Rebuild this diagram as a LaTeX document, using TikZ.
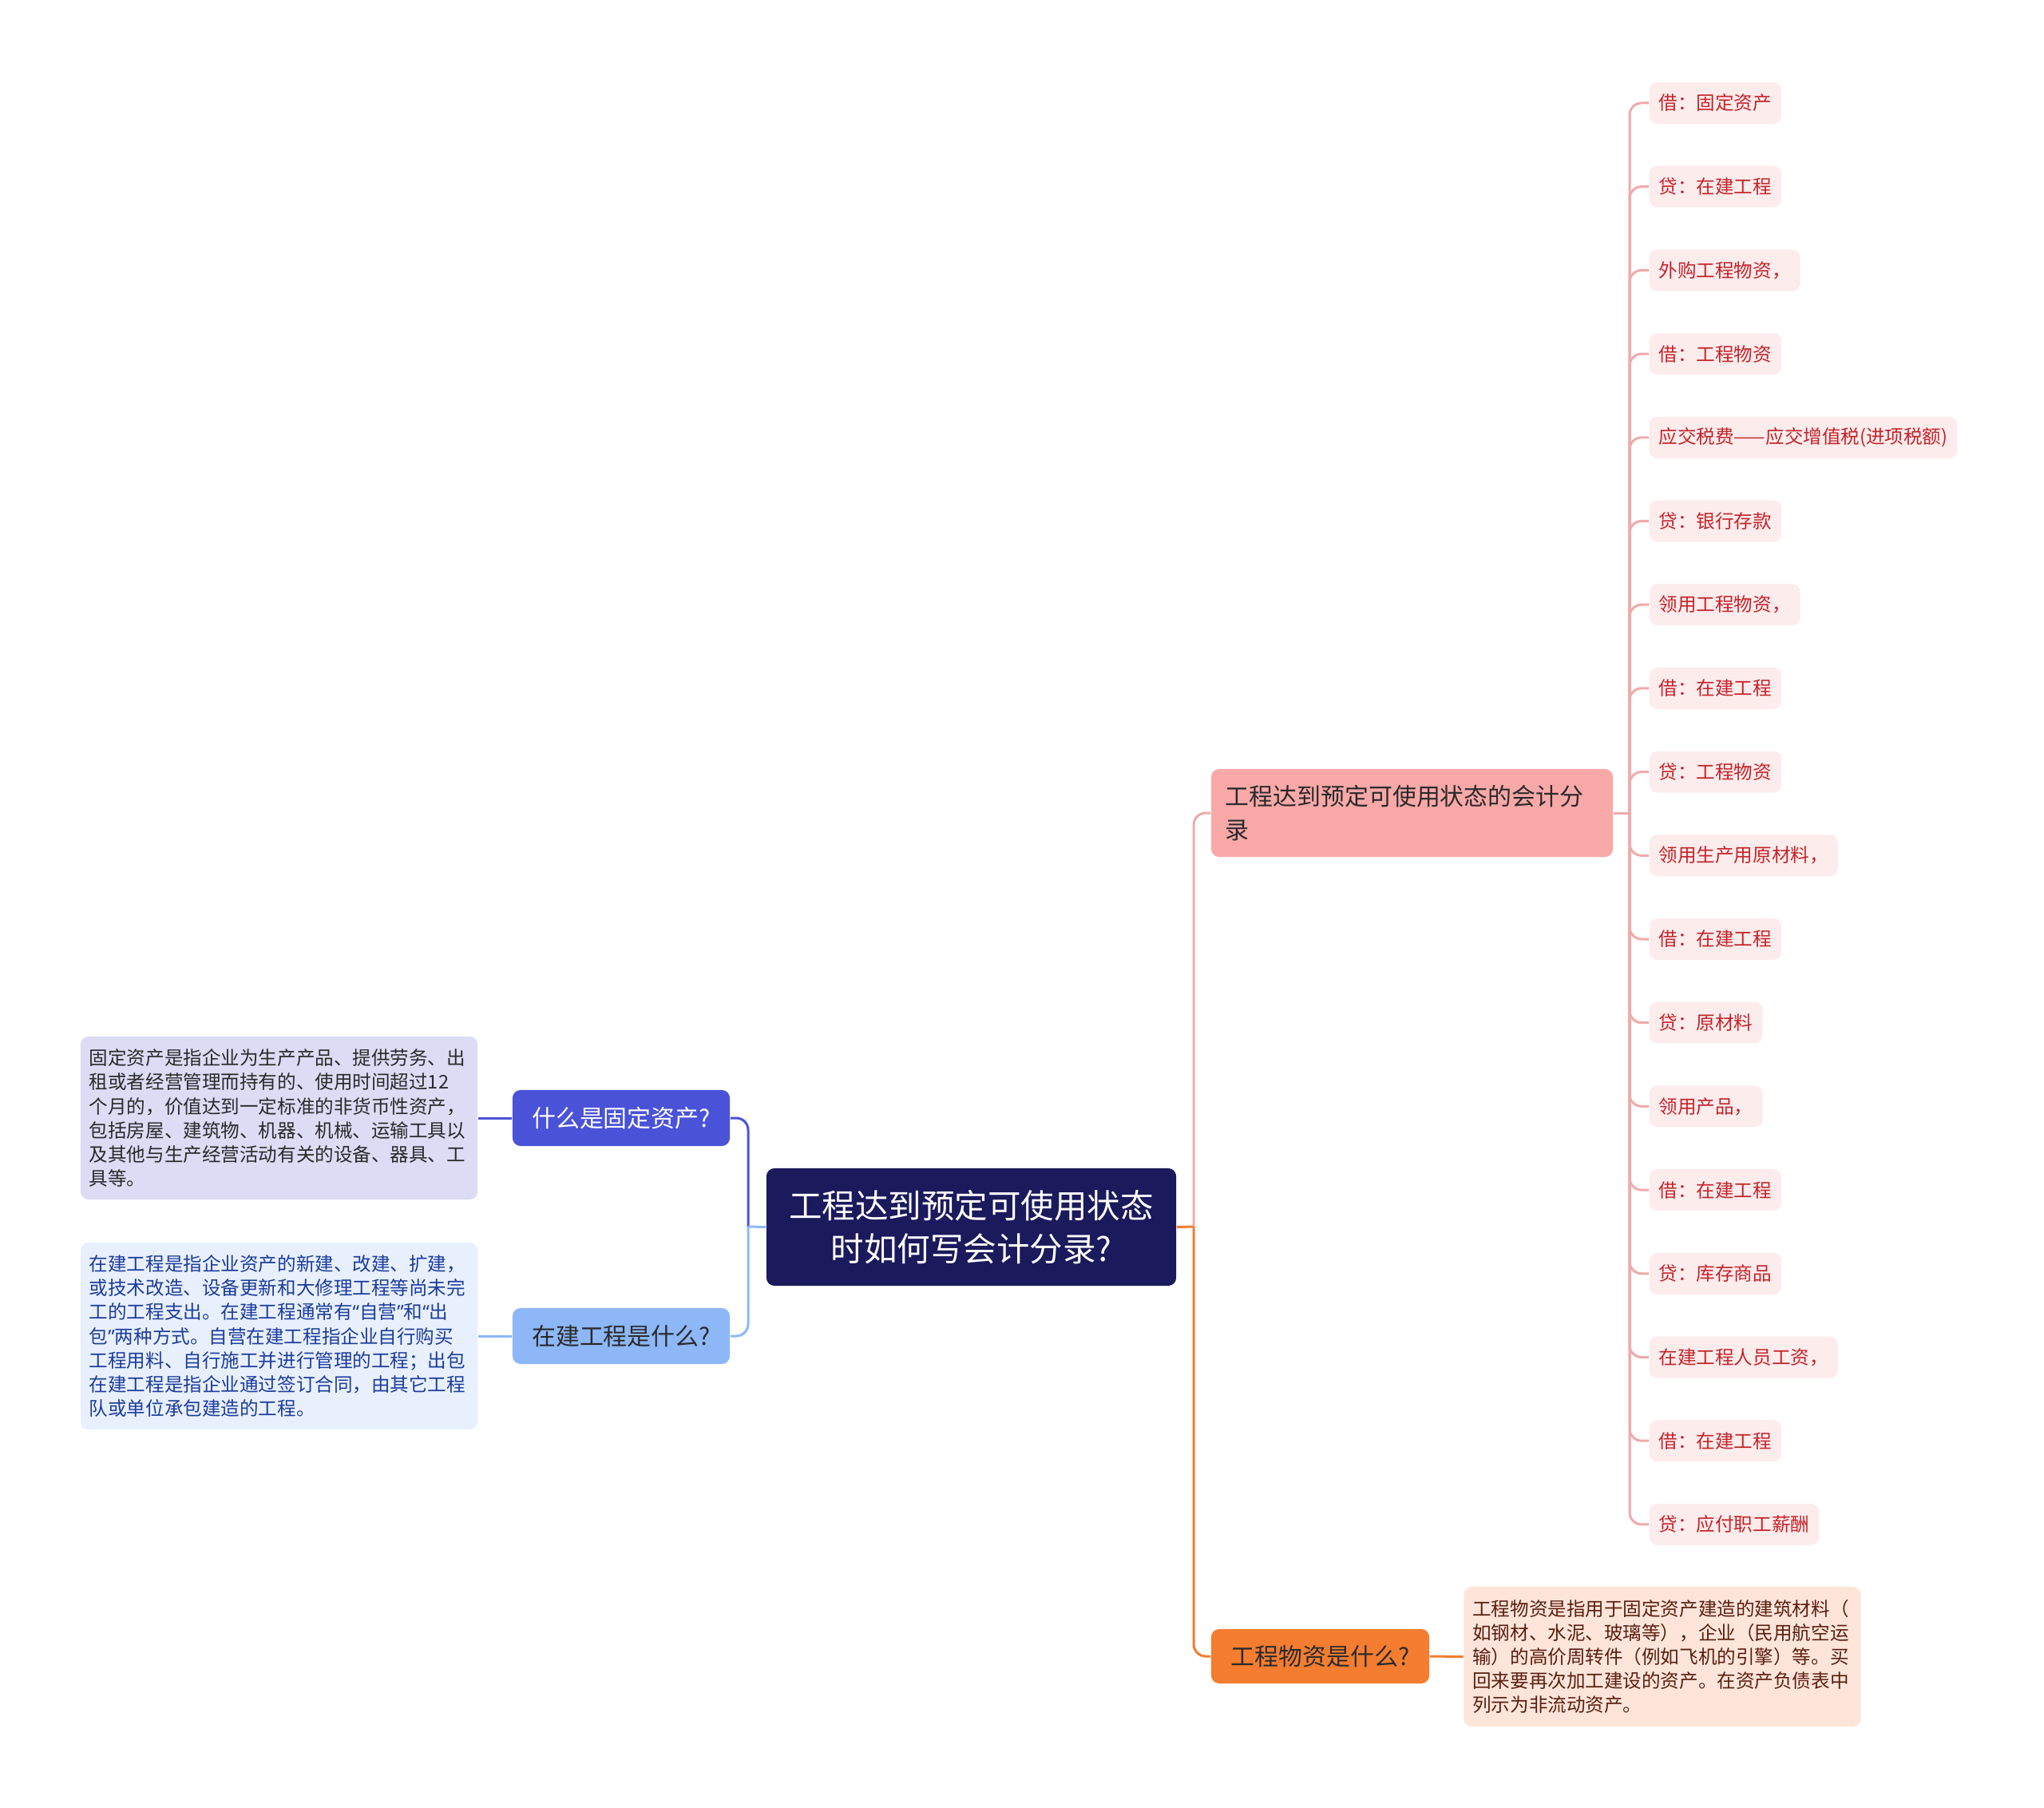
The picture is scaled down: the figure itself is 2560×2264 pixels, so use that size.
\documentclass[tikz,border=0pt]{standalone}
\usepackage{tikz}
\usepackage{xcolor}
\usepackage{fontspec}
\newfontfamily\cjk{Noto Sans CJK SC}
\newfontfamily\latin{Noto Sans}
\newcommand{\openq}{{\latin “}}
\newcommand{\closeq}{{\latin ”}}

\definecolor{rootfill}{HTML}{1B1A5C}
\definecolor{purplefill}{HTML}{4A52D8}
\definecolor{purplelight}{HTML}{DCDCF5}
\definecolor{bluefill}{HTML}{8DB7F7}
\definecolor{bluelight}{HTML}{E8F0FD}
\definecolor{bluetext}{HTML}{1C3C9C}
\definecolor{pinkfill}{HTML}{F9A8A8}
\definecolor{pinkline}{HTML}{F0AAAA}
\definecolor{leaffill}{HTML}{FDECEC}
\definecolor{leaftext}{HTML}{C4232A}
\definecolor{orangefill}{HTML}{F47D30}
\definecolor{orangelight}{HTML}{FDE5DA}
\definecolor{orangetext}{HTML}{5B1E0E}
\definecolor{darktext}{HTML}{2A2A2A}

\begin{document}
\begin{tikzpicture}[x=0.01cm, y=-0.01cm,
  box/.style={rounded corners=0.1cm, inner sep=0pt},
  small/.style={font={\cjk\fontsize{6.7pt}{8.55pt}\selectfont}},
  mid/.style={font={\cjk\fontsize{8.5pt}{12pt}\selectfont}},
  link/.style={line width=0.03cm},
  leaf/.style={box, small, fill=leaffill, text=leaftext, inner xsep=0.12cm,
    minimum height=0.52cm, anchor=west},
  desc/.style={box, small, align=left, text width=4.75cm, inner xsep=0.11cm}]
  % Fix the page size
  \useasboundingbox (0,0) rectangle (2560,2264);

  % Centre topic
  \node[box, fill=rootfill, text=white, align=center,
    font={\cjk\fontsize{11.8pt}{15.3pt}\selectfont},
    minimum width=5.13cm, minimum height=1.47cm] (root) at (1216.5,1536.5)
    {工程达到预定可使用状态\\时如何写会计分录?};

  % Left side
  \node[box, mid, fill=purplefill, text=white, minimum width=2.72cm,
    minimum height=0.70cm] (asset) at (778,1400) {什么是固定资产?};
  \node[box, mid, fill=bluefill, text=darktext, minimum width=2.72cm,
    minimum height=0.70cm] (build) at (778,1673) {在建工程是什么?};
  \node[desc, fill=purplelight, text=darktext, minimum height=2.04cm]
    (assetdesc) at (349.5,1400)
    {固定资产是指企业为生产产品、提供劳务、出\\
     租或者经营管理而持有的、使用时间超过12\\
     个月的，价值达到一定标准的非货币性资产，\\
     包括房屋、建筑物、机器、机械、运输工具以\\
     及其他与生产经营活动有关的设备、器具、工\\
     具等。};
  \node[desc, fill=bluelight, text=bluetext, minimum height=2.34cm]
    (builddesc) at (349.5,1673)
    {在建工程是指企业资产的新建、改建、扩建，\\
     或技术改造、设备更新和大修理工程等尚未完\\
     工的工程支出。在建工程通常有\openq 自营\closeq 和\openq 出\\
     包\closeq 两种方式。自营在建工程指企业自行购买\\
     工程用料、自行施工并进行管理的工程；出包\\
     在建工程是指企业通过签订合同，由其它工程\\
     队或单位承包建造的工程。};

  \coordinate (lj) at (937,1536);
  \draw[link, purplefill, rounded corners=0.15cm] (lj) |- (asset.east);
  \draw[link, bluefill, rounded corners=0.15cm] (lj) |- (build.east);
  \draw[link, bluefill] (root.west) -- (lj);
  \draw[link, purplefill] (asset.west) -- (assetdesc.east);
  \draw[link, bluefill] (build.west) -- (builddesc.east);

  % Right side
  \node[box, mid, fill=pinkfill, text=darktext, align=left, text width=4.67cm,
    inner xsep=0.18cm, minimum height=1.10cm] (entry) at (1768.5,1018)
    {工程达到预定可使用状态的会计分\\录};
  \node[box, mid, fill=orangefill, text=darktext, minimum width=2.73cm,
    minimum height=0.68cm] (goods) at (1653.5,2074) {工程物资是什么?};
  \node[desc, fill=orangelight, text=orangetext, minimum height=1.75cm]
    (goodsdesc) at (2082,2074.5)
    {工程物资是指用于固定资产建造的建筑材料（\\
     如钢材、水泥、玻璃等），企业（民用航空运\\
     输）的高价周转件（例如飞机的引擎）等。买\\
     回来要再次加工建设的资产。在资产负债表中\\
     列示为非流动资产。};

  \coordinate (rj) at (1495,1536);
  \draw[link, pinkline, rounded corners=0.15cm] (rj) |- (entry.west);
  \draw[link, orangefill, rounded corners=0.15cm] (rj) |- (goods.west);
  \draw[link, orangefill] (root.east) -- (rj);
  \draw[link, orangefill] (goods.east) -- (goodsdesc.west);

  % Entries
  \coordinate (pj) at (2041,1018);
  \draw[link, pinkline] (entry.east) -- (pj);
  \foreach \txt [count=\i] in {借：固定资产, 贷：在建工程, 外购工程物资，,
      借：工程物资, 应交税费——应交增值税(进项税额), 贷：银行存款,
      领用工程物资，, 借：在建工程, 贷：工程物资, 领用生产用原材料，,
      借：在建工程, 贷：原材料, 领用产品，, 借：在建工程, 贷：库存商品,
      在建工程人员工资，, 借：在建工程, 贷：应付职工薪酬} {
    \node[leaf] (leaf\i) at (2065,{129+(\i-1)*104.7}) {\txt};
    \draw[link, pinkline, rounded corners=0.15cm] (pj) |- (leaf\i.west);
  }
\end{tikzpicture}
\end{document}
